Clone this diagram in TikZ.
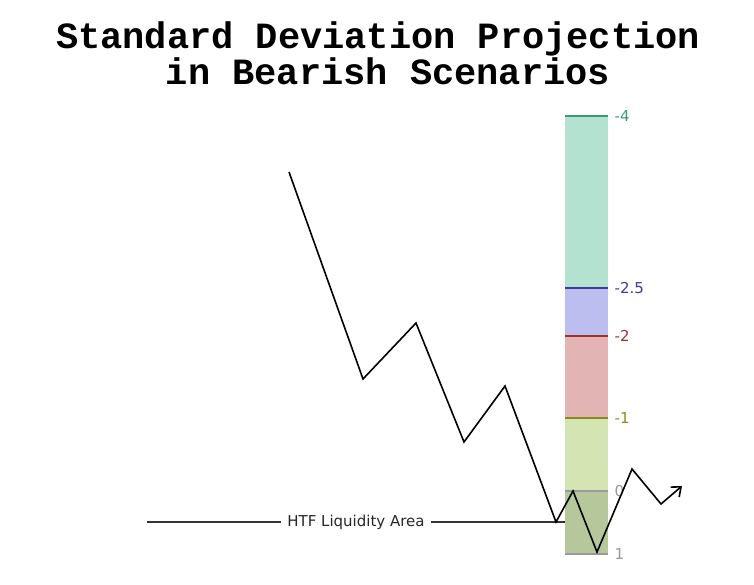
\documentclass[tikz,border=0pt]{standalone}
\usepackage{fontspec}
\setmainfont{DejaVu Sans}
\newfontfamily\titlefont{Liberation Mono}
\usetikzlibrary{arrows.meta}

\definecolor{bandFour}{HTML}{B3E3D0}
\definecolor{bandHalf}{HTML}{BDBEF0}
\definecolor{bandTwo}{HTML}{E2B4B4}
\definecolor{bandOne}{HTML}{D4E4B2}
\definecolor{bandZero}{HTML}{B6C79C}
\definecolor{lvlFour}{HTML}{3A9A72}
\definecolor{lvlHalf}{HTML}{3C3C9C}
\definecolor{lvlTwo}{HTML}{A03232}
\definecolor{lvlOne}{HTML}{8A8A1E}
\definecolor{lvlZero}{HTML}{999999}

\tikzset{
    title/.style={font=\titlefont\bfseries\fontsize{37}{40}\selectfont},
    lvlline/.style={line width=1.3pt},
    lvllabel/.style={anchor=west,inner sep=0pt,xshift=6pt,font=\fontsize{15}{17}\selectfont},
    price/.style={line width=1.6pt,black}
}

\begin{document}
\begin{tikzpicture}[x=1pt,y=-1pt]
        \useasboundingbox (0,0) rectangle (754,585);

        \node[title] (title1) at (378,39) {Standard Deviation Projection};
        \node[title] (title2) at (388,71) {in Bearish Scenarios};

        % bands
        \fill[bandFour] (565,116) rectangle (608,288);
        \fill[bandHalf] (565,288) rectangle (608,336);
        \fill[bandTwo] (565,336) rectangle (608,418);
        \fill[bandOne] (565,418) rectangle (608,491);
        \fill[bandZero] (565,491) rectangle (608,554);

        % levels
        \draw[lvlline,lvlFour] (565,116) -- (608,116) node[lvllabel,text=lvlFour] (l4) {-4};
        \draw[lvlline,lvlHalf] (565,288) -- (608,288) node[lvllabel,text=lvlHalf] (l25) {-2.5};
        \draw[lvlline,lvlTwo] (565,336) -- (608,336) node[lvllabel,text=lvlTwo] (l2) {-2};
        \draw[lvlline,lvlOne] (565,418) -- (608,418) node[lvllabel,text=lvlOne] (l1) {-1};
        \draw[lvlline,lvlZero] (565,491) -- (608,491) node[lvllabel,text=lvlZero] (l0) {0};
        \draw[lvlline,lvlZero] (565,554) -- (608,554) node[lvllabel,text=lvlZero] (lp1) {1};

        % liquidity line
        \node[inner sep=6pt,font=\fontsize{15}{17}\selectfont,text=black!85] (htf) at (356,522) {HTF Liquidity Area};
        \coordinate (htfL) at (147,522);
        \coordinate (htfR) at (565,522);
        \draw[line width=2pt,black!80] (htfL) -- (htf);
        \draw[line width=2pt,black!80] (htf) -- (htfR);

        % price path
        \coordinate (p0) at (289,172);
        \coordinate (p1) at (363,379);
        \coordinate (p2) at (416,323);
        \coordinate (p3) at (464,442);
        \coordinate (p4) at (505,386);
        \coordinate (p5) at (556,522);
        \coordinate (p6) at (573,491);
        \coordinate (p7) at (597,552);
        \coordinate (p8) at (632,469);
        \coordinate (p9) at (661,504);
        \coordinate (p10) at (682,486);
        \draw[price,-{Straight Barb[length=8pt,width=13pt]}] (p0) -- (p1) -- (p2) -- (p3) -- (p4) -- (p5) -- (p6) -- (p7) -- (p8) -- (p9) -- (p10);
    \end{tikzpicture}
\end{document}
